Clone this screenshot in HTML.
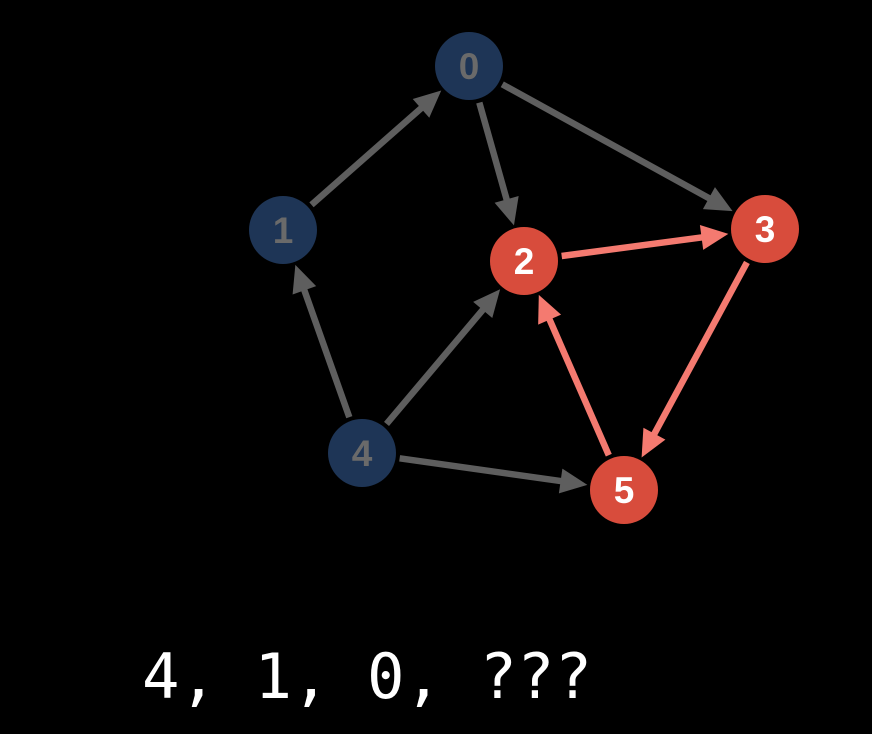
<!DOCTYPE html>
<html><head><meta charset="utf-8"><style>
html,body{margin:0;padding:0;background:#000;width:872px;height:734px;overflow:hidden}
svg{display:block}
</style></head><body>
<svg id="s" width="872" height="734" xmlns="http://www.w3.org/2000/svg">
<g id="edges"></g><g id="nodes"></g>
<text x="142" y="698" font-family="DejaVu Sans Mono, Liberation Mono, monospace" font-size="62.3" fill="#fff">4, 1, 0, ???</text>
</svg>
<script>
var N={0:[469,66,0],1:[283,230,0],2:[524,261,1],3:[765,229,1],4:[362,453,0],5:[624,490,1]};
var E=[[1,0,0],[0,2,0],[0,3,0],[4,1,0],[4,2,0],[4,5,0],[2,3,1],[3,5,1],[5,2,1]];
var R=34,ns="http://www.w3.org/2000/svg";
function el(t,a,p){var e=document.createElementNS(ns,t);for(var k in a)e.setAttribute(k,a[k]);p.appendChild(e);return e;}
var eg=document.getElementById('edges'),ng=document.getElementById('nodes');
E.forEach(function(e){
 var a=N[e[0]],b=N[e[1]],dx=b[0]-a[0],dy=b[1]-a[1],L=Math.hypot(dx,dy),ux=dx/L,uy=dy/L;
 var c=e[2]?'#f47a70':'#5e5e5e';
 var sx=a[0]+ux*(R+4),sy=a[1]+uy*(R+4),tx=b[0]-ux*(R+3),ty=b[1]-uy*(R+3);
 var hl=27,hw=12.5,bx=tx-ux*hl,by=ty-uy*hl;
 el('line',{x1:sx,y1:sy,x2:bx+ux*2,y2:by+uy*2,stroke:c,'stroke-width':6.5},eg);
 el('polygon',{points:tx+','+ty+' '+(bx-uy*hw)+','+(by+ux*hw)+' '+(bx+uy*hw)+','+(by-ux*hw),fill:c},eg);
});
for(var k in N){var n=N[k];
 el('circle',{cx:n[0],cy:n[1],r:R,fill:n[2]?'#d84c3c':'#1e3556'},ng);
 var t=el('text',{x:n[0],y:n[1]+13,'text-anchor':'middle','font-family':'Liberation Sans, sans-serif','font-weight':'bold','font-size':37,fill:n[2]?'#fff':'#6a6a6a'},ng);
 t.textContent=k;}
</script>
</body></html>
